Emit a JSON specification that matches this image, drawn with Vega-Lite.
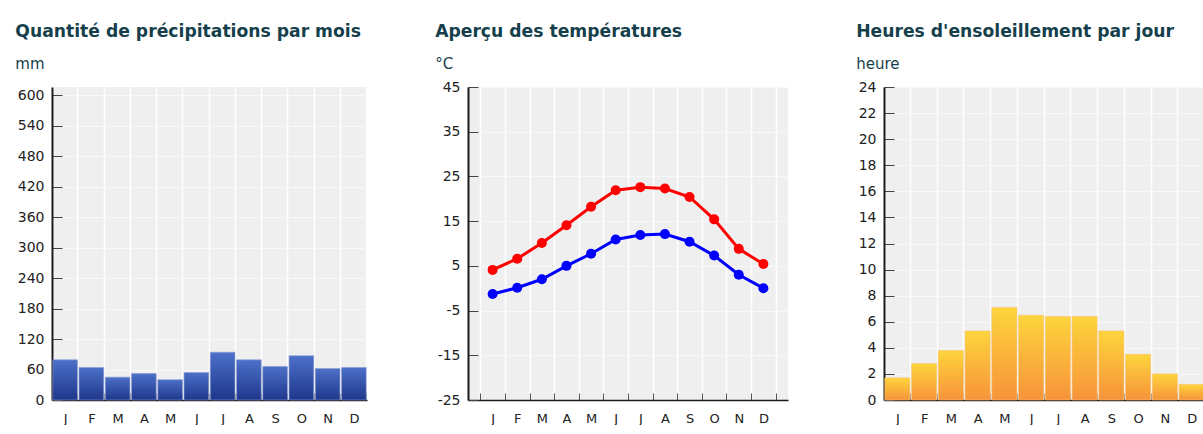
{
  "$schema": "https://vega.github.io/schema/vega-lite/v6.json",
  "background": "white",
  "padding": {"left": 15, "top": 23, "right": 0, "bottom": 0},
  "spacing": 68,
  "data": {
    "values": [
      {"m": 1, "precip": 79, "tmax": 4.1, "tmin": -1.3, "sun": 1.7},
      {"m": 2, "precip": 64, "tmax": 6.6, "tmin": 0.1, "sun": 2.8},
      {"m": 3, "precip": 45, "tmax": 10.1, "tmin": 2.0, "sun": 3.8},
      {"m": 4, "precip": 52, "tmax": 14.1, "tmin": 5.0, "sun": 5.3},
      {"m": 5, "precip": 40, "tmax": 18.2, "tmin": 7.7, "sun": 7.1},
      {"m": 6, "precip": 54, "tmax": 21.9, "tmin": 10.9, "sun": 6.5},
      {"m": 7, "precip": 94, "tmax": 22.6, "tmin": 11.9, "sun": 6.4},
      {"m": 8, "precip": 79, "tmax": 22.3, "tmin": 12.1, "sun": 6.4},
      {"m": 9, "precip": 66, "tmax": 20.4, "tmin": 10.4, "sun": 5.3},
      {"m": 10, "precip": 87, "tmax": 15.4, "tmin": 7.3, "sun": 3.5},
      {"m": 11, "precip": 62, "tmax": 8.8, "tmin": 3.0, "sun": 2.0},
      {"m": 12, "precip": 64, "tmax": 5.4, "tmin": 0.0, "sun": 1.2}
    ]
  },
  "hconcat": [
    {
      "width": 315,
      "height": 313,
      "title": {"text": "Quantité de précipitations par mois", "subtitle": "mm", "offset": 15.5},
      "mark": {
        "type": "bar",
        "color": {"gradient": "linear", "x1": 0, "y1": 0, "x2": 0, "y2": 1,
          "stops": [{"offset": 0, "color": "#4d70c8"}, {"offset": 1, "color": "#1e378c"}]},
        "stroke": "#8a9dd4",
        "strokeWidth": 0.6
      },
      "encoding": {
        "x": {"field": "m", "type": "ordinal", "scale": {"paddingInner": 0.06, "paddingOuter": 0.03}},
        "y": {"field": "precip", "type": "quantitative",
          "scale": {"domain": [0, 616], "nice": false},
          "axis": {"values": [0, 60, 120, 180, 240, 300, 360, 420, 480, 540, 600]}}
      }
    },
    {
      "width": 320,
      "height": 313,
      "title": {"text": "Aperçu des températures", "subtitle": "°C", "offset": 8.5},
      "transform": [{"fold": ["tmax", "tmin"], "as": ["serie", "temp"]}],
      "mark": {"type": "line", "strokeWidth": 3, "point": {"filled": true, "size": 100, "opacity": 1}},
      "encoding": {
        "x": {"field": "m", "type": "ordinal", "scale": {"type": "band", "paddingInner": 0, "paddingOuter": 0.5},
          "axis": {"tickColor": "#555555"}},
        "y": {"field": "temp", "type": "quantitative",
          "scale": {"domain": [-25, 45], "nice": false, "zero": false},
          "axis": {"values": [-25, -15, -5, 5, 15, 25, 35, 45], "labelExpr": "'' + datum.value"}},
        "color": {"field": "serie", "type": "nominal",
          "scale": {"domain": ["tmax", "tmin"], "range": ["#ff0000", "#0000ff"]}, "legend": null}
      }
    },
    {
      "width": 321,
      "height": 313,
      "title": {"text": "Heures d'ensoleillement par jour", "subtitle": "heure", "offset": 8.5},
      "mark": {
        "type": "bar",
        "color": {"gradient": "linear", "x1": 0, "y1": 0, "x2": 0, "y2": 1,
          "stops": [{"offset": 0, "color": "#fdd53c"}, {"offset": 1, "color": "#f7933a"}]},
        "stroke": "#f9c27a",
        "strokeWidth": 0.6
      },
      "encoding": {
        "x": {"field": "m", "type": "ordinal", "scale": {"paddingInner": 0.06, "paddingOuter": 0.03}},
        "y": {"field": "sun", "type": "quantitative",
          "scale": {"domain": [0, 24], "nice": false},
          "axis": {"values": [0, 2, 4, 6, 8, 10, 12, 14, 16, 18, 20, 22, 24]}}
      }
    }
  ],
  "config": {
    "font": "DejaVu Sans",
    "view": {"fill": "#efefef", "stroke": null},
    "title": {
      "anchor": "start", "frame": "bounds", "font": "DejaVu Sans", "fontSize": 17.2, "fontWeight": "bold",
      "color": "#163f4c", "subtitleFont": "DejaVu Sans", "subtitleFontSize": 15, "subtitleColor": "#163f4c",
      "subtitlePadding": 16, "dx": -2
    },
    "axis": {"labelFont": "DejaVu Sans", "labelColor": "#222222", "title": null},
    "axisX": {
      "labelAngle": 0, "labelFontSize": 13, "tickBand": "extent", "grid": true, "gridColor": "#ffffff",
      "gridWidth": 1.5, "tickSize": -7, "tickColor": "#9a9a9a", "labelPadding": 19,
      "domainColor": "#1a1a1a", "domainWidth": 1.5,
      "labelExpr": "['J','F','M','A','M','J','J','A','S','O','N','D'][datum.value-1]"
    },
    "axisY": {
      "labelFontSize": 14, "tickSize": -10, "tickColor": "#444444", "labelPadding": 18, "grid": true,
      "gridColor": "#f8f8f8", "domainColor": "#1a1a1a", "domainWidth": 2
    }
  }
}
